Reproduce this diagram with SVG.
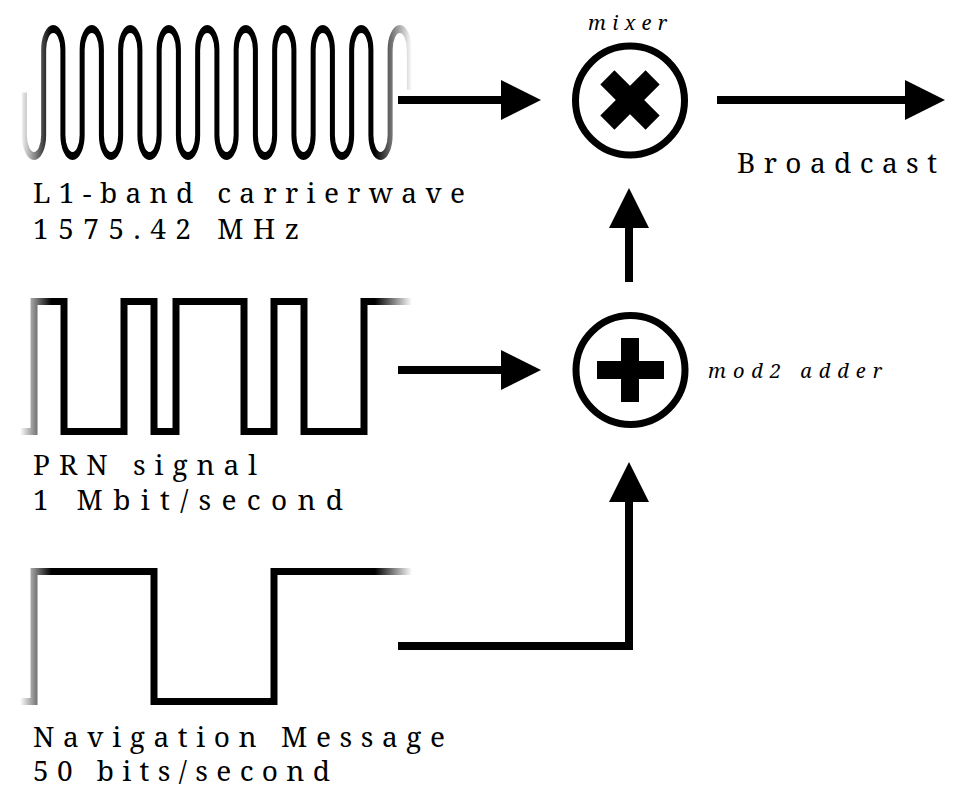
<svg xmlns="http://www.w3.org/2000/svg" width="960" height="787" viewBox="0 0 960 787">
<style>
.lbl{font-family:"Noto Serif","DejaVu Serif",serif;font-size:28px;fill:#000}
.it{font-family:"Noto Serif","DejaVu Serif",serif;font-size:20px;font-style:italic;fill:#000}
.wave{fill:none;stroke:url(#fade);stroke-width:7;stroke-linejoin:miter}
.conn{fill:none;stroke:#000;stroke-width:8;stroke-linejoin:miter;marker-end:url(#head)}
.ring{fill:none;stroke:#000;stroke-width:7}
</style>
<defs>
<linearGradient id="fade" gradientUnits="userSpaceOnUse" x1="20" y1="0" x2="412" y2="0">
<stop offset="0" stop-color="#fff"/>
<stop offset="0.08" stop-color="#000"/>
<stop offset="0.905" stop-color="#000"/>
<stop offset="1" stop-color="#fff"/>
</linearGradient>
<marker id="head" viewBox="0 -20 40 40" markerWidth="40" markerHeight="40" refX="0" refY="0" orient="auto" markerUnits="userSpaceOnUse">
<path d="M0,-20 L40,0 L0,20 z" fill="#000"/>
</marker>
</defs>
<rect width="960" height="787" fill="#fff"/>

<g id="carrier">
<path class="wave" style="stroke-width:5" transform="translate(0,92.5) scale(1,1.6)" d="M24.4,0 v26.7 a9.625,13 0 0 0 19.25,0
v-53.4 a9.625,13 0 0 1 19.25,0 v53.4 a9.625,13 0 0 0 19.25,0
v-53.4 a9.625,13 0 0 1 19.25,0 v53.4 a9.625,13 0 0 0 19.25,0
v-53.4 a9.625,13 0 0 1 19.25,0 v53.4 a9.625,13 0 0 0 19.25,0
v-53.4 a9.625,13 0 0 1 19.25,0 v53.4 a9.625,13 0 0 0 19.25,0
v-53.4 a9.625,13 0 0 1 19.25,0 v53.4 a9.625,13 0 0 0 19.25,0
v-53.4 a9.625,13 0 0 1 19.25,0 v53.4 a9.625,13 0 0 0 19.25,0
v-53.4 a9.625,13 0 0 1 19.25,0 v53.4 a9.625,13 0 0 0 19.25,0
v-53.4 a9.625,13 0 0 1 19.25,0 v53.4 a9.625,13 0 0 0 19.25,0
v-53.4 a9.625,13 0 0 1 19.25,0 v53.4 a9.625,13 0 0 0 19.25,0
v-53.4 a9.625,13 0 0 1 19.25,0 v25"/>
<text class="lbl" x="33" y="203" textLength="432" lengthAdjust="spacing">L1-band carrierwave</text>
<text class="lbl" x="33" y="239" textLength="266" lengthAdjust="spacing">1575.42 MHz</text>
</g>

<g id="prn">
<path class="wave" d="M20,431.5 H34 V301.5 H64 V431.5 H124 V301.5 H154 V431.5 H176 V301.5 H244 V431.5 H274 V301.5 H304 V431.5 H364 V301.5 H412"/>
<text class="lbl" x="33" y="475" textLength="224" lengthAdjust="spacing">PRN signal</text>
<text class="lbl" x="33" y="510" textLength="310" lengthAdjust="spacing">1 Mbit/second</text>
</g>

<g id="nav">
<path class="wave" d="M20,701.5 H34 V571.5 H154 V701.5 H274 V571.5 H412"/>
<text class="lbl" x="33" y="747" textLength="412" lengthAdjust="spacing">Navigation Message</text>
<text class="lbl" x="33" y="781" textLength="297" lengthAdjust="spacing">50 bits/second</text>
</g>

<g id="mixer">
<circle class="ring" cx="630" cy="100.5" r="54.5"/>
<g transform="translate(630,100) rotate(45)">
<rect x="-32" y="-10" width="64" height="20" fill="#000"/>
<rect x="-10" y="-32" width="20" height="64" fill="#000"/>
</g>
<text class="it" x="588" y="30" textLength="79" lengthAdjust="spacing">mixer</text>
</g>

<g id="adder">
<circle class="ring" cx="630.5" cy="370" r="54.5"/>
<rect x="597" y="361" width="67" height="18" fill="#000"/>
<rect x="621" y="338" width="18" height="64" fill="#000"/>
<text class="it" x="708" y="378" textLength="174" lengthAdjust="spacing">mod2 adder</text>
</g>

<g id="broadcast">
<text class="lbl" x="737" y="173" textLength="200" lengthAdjust="spacing">Broadcast</text>
</g>

<g id="connectors">
<path class="conn" d="M398,100 H501"/>
<path class="conn" d="M398,370 H501"/>
<path class="conn" d="M629,282 V228"/>
<path class="conn" d="M398,646 H629 V502"/>
<path class="conn" d="M717,100 H905"/>
</g>
</svg>
